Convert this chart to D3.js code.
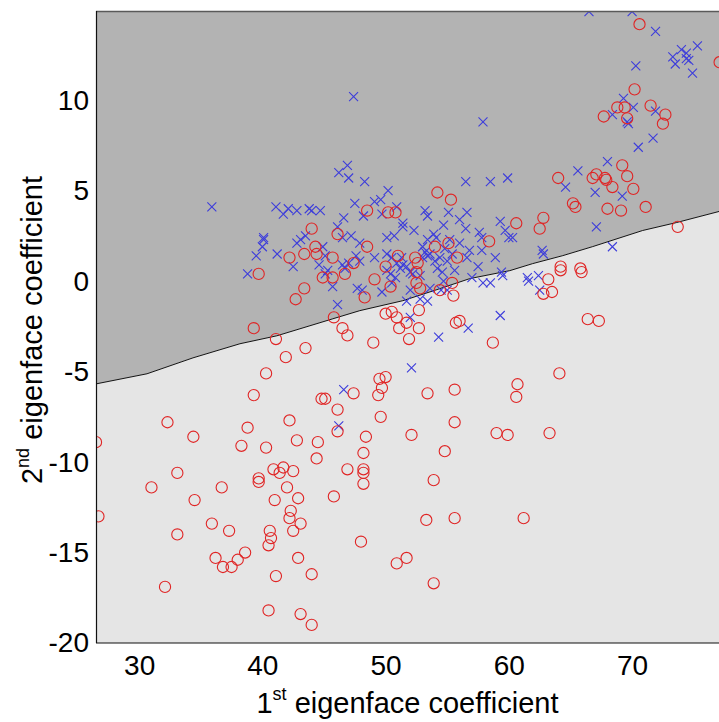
<!DOCTYPE html>
<html>
<head>
<meta charset="utf-8">
<script src="https://cdn.jsdelivr.net/npm/d3@7"></script>
<style>
  html, body { margin: 0; padding: 0; background: #ffffff; }
  svg { display: block; }
  text { font-family: "Liberation Sans", Arial, sans-serif; fill: #000; }
</style>
</head>
<body>
<svg id="chart" width="719" height="722"></svg>
<script>
// ---------------- data ----------------
const xTicks = [30, 40, 50, 60, 70];
const yTicks = [-20, -15, -10, -5, 0, 5, 10];
const xDomain = [26.5, 77.05];
const yDomain = [-20, 14.93];

// decision boundary (x, y) samples
const boundary = [[26.5,-5.68],[30.64,-5.12],[34.37,-4.24],[38.18,-3.46],[41.18,-3.02],[45.72,-2.08],[47.91,-1.63],[51.40,-1.08],[54.16,-0.47],[56.83,0.14],[60.08,0.58],[61.94,0.97],[64.38,1.41],[66.81,1.91],[70.86,2.80],[73.62,3.24],[77.05,3.85]];

// class 1 (blue crosses)
const crosses = [[35.9,4.1],[47.4,10.2],[46.9,6.4],[46.2,6.0],[47.0,5.7],[48.3,5.5],[41.1,4.1],[41.7,3.7],[42.1,4.0],[42.8,3.9],[43.8,4.0],[44.0,3.9],[44.7,3.9],[46.6,3.5],[40.1,2.4],[40.1,2.3],[40.0,1.9],[39.5,1.4],[38.8,0.4],[41.2,1.5],[42.5,0.8],[43.5,2.5],[43.1,2.3],[42.8,2.1],[44.6,0.9],[45.1,0.4],[45.7,-0.3],[46.1,-1.3],[46.5,0.9],[47.0,1.0],[47.6,1.4],[47.7,-0.4],[48.1,-0.5],[46.6,-6.0],[46.2,-8.0],[46.1,3.0],[47.2,2.5],[46.5,2.4],[47.9,2.1],[48.2,3.6],[49.7,3.7],[50.2,5.0],[49.1,4.4],[49.6,4.5],[47.5,4.3],[50.9,4.1],[51.4,3.2],[51.4,3.0],[52.3,2.8],[50.1,2.4],[50.7,2.5],[44.9,1.9],[45.1,1.4],[53.2,3.9],[53.4,3.6],[53.9,2.6],[54.1,2.4],[54.7,3.1],[55.1,3.8],[56.6,3.8],[56.0,3.4],[56.5,2.9],[57.6,2.7],[57.8,2.4],[59.3,3.3],[59.7,2.8],[60.0,2.4],[60.3,2.4],[56.5,5.5],[58.5,5.5],[59.9,5.7],[57.9,8.8],[65.6,6.1],[68.0,6.6],[64.6,5.2],[67.0,4.9],[69.2,4.7],[67.1,3.0],[66.5,14.9],[70.0,14.9],[71.9,13.8],[75.3,13.0],[74.0,12.8],[74.4,12.6],[73.3,12.4],[74.6,12.2],[74.4,12.3],[73.5,12.0],[74.9,11.5],[70.3,11.9],[69.3,10.1],[70.1,9.6],[68.4,9.2],[69.6,8.8],[69.7,8.7],[71.9,9.4],[71.7,7.9],[70.5,7.4],[68.4,1.9],[62.7,1.7],[62.8,1.5],[61.5,0.2],[61.6,0.0],[62.4,0.3],[62.5,-0.5],[59.4,0.5],[59.5,0.3],[57.9,-0.1],[58.5,-0.1],[58.9,1.3],[59.3,-1.9],[56.7,-2.6],[54.3,-3.1],[52.0,-2.0],[52.1,-4.8],[49.1,1.3],[47.9,1.1],[46.7,0.7],[45.3,0.6],[49.7,-0.6],[50.1,1.5],[50.5,1.3],[50.9,1.0],[51.3,1.3],[51.4,0.9],[50.1,0.6],[50.4,0.4],[50.8,0.2],[50.5,-0.1],[51.2,0.7],[51.7,0.8],[52.0,0.5],[52.2,0.4],[52.8,0.3],[53.0,1.9],[53.2,1.6],[53.4,2.3],[53.0,1.3],[53.4,1.4],[53.6,1.5],[54.0,1.1],[54.2,0.7],[52.0,-0.5],[52.8,-1.0],[53.4,-1.1],[53.6,-0.4],[55.2,2.3],[56.0,2.1],[54.8,1.8],[55.4,1.5],[56.8,1.7],[57.8,1.7],[54.4,1.3],[55.0,1.1],[55.6,0.6],[56.6,1.3],[57.5,0.8],[57.0,0.2],[54.6,0.5],[54.7,0.0],[54.5,-0.5],[55.0,-0.5],[51.7,-1.1]];

// class 2 (red circles)
const circles = [[44.0,2.9],[46.1,2.6],[42.2,1.3],[43.4,1.5],[44.3,1.9],[44.4,1.5],[39.7,0.4],[43.4,-0.4],[42.7,-1.0],[45.7,1.3],[44.9,0.2],[45.7,0.2],[46.7,0.4],[47.4,1.0],[45.8,-2.0],[46.5,-2.6],[46.9,-3.0],[39.3,-2.6],[41.1,-3.2],[43.5,-3.7],[41.9,-4.2],[40.3,-5.1],[39.3,-6.3],[44.8,-6.5],[45.1,-6.5],[46.1,-7.1],[47.4,-6.2],[46.1,-8.3],[42.2,-7.7],[38.8,-8.1],[32.3,-7.8],[34.4,-8.6],[26.5,-8.9],[38.3,-9.1],[40.3,-9.2],[42.8,-8.8],[44.5,-8.9],[44.4,-9.8],[46.9,-10.4],[33.1,-10.6],[40.9,-10.4],[41.7,-10.3],[41.4,-10.6],[42.5,-10.5],[39.7,-10.9],[48.2,-10.4],[48.2,-10.6],[31.0,-11.4],[36.7,-11.4],[39.7,-11.1],[42.0,-11.4],[45.8,-11.9],[34.5,-12.1],[41.0,-12.1],[42.9,-12.0],[26.7,-13.0],[42.3,-12.7],[42.2,-13.1],[35.9,-13.4],[43.1,-13.4],[40.6,-13.8],[42.5,-13.8],[37.3,-13.8],[33.1,-14.0],[40.7,-14.2],[40.5,-14.6],[48.0,-14.4],[38.6,-15.0],[38.0,-15.4],[36.2,-15.3],[36.8,-15.8],[37.5,-15.8],[42.9,-15.3],[44.0,-16.2],[41.1,-16.3],[32.1,-16.9],[40.5,-18.2],[43.1,-18.4],[44.0,-19.0],[49.0,-3.4],[48.5,1.9],[50.0,-1.8],[50.5,-1.7],[50.9,-2.0],[51.1,-2.6],[51.7,-2.3],[51.9,-3.2],[52.7,-2.6],[52.7,-1.6],[55.7,-2.3],[56.0,-2.2],[58.7,-3.4],[66.4,-2.1],[67.3,-2.2],[64.1,-5.1],[60.7,-5.7],[60.6,-6.4],[49.5,-5.4],[50.0,-5.3],[49.7,-5.9],[49.4,-6.3],[53.4,-6.2],[55.6,-6.0],[49.6,-7.5],[55.6,-7.8],[48.4,-8.6],[52.1,-8.5],[59.0,-8.4],[59.9,-8.5],[63.3,-8.4],[48.2,-9.5],[54.8,-9.4],[53.9,-11.0],[64.2,0.8],[64.2,0.6],[65.8,0.7],[65.9,0.5],[63.2,0.1],[63.5,-0.6],[62.8,-0.7],[48.2,-11.2],[53.3,-13.2],[55.6,-13.1],[61.2,-13.1],[50.9,-15.6],[51.7,-15.3],[53.9,-16.7],[49.1,0.1],[48.3,-0.9],[50.4,-0.3],[50.0,0.8],[51.0,1.4],[52.4,1.3],[52.6,1.0],[52.5,0.5],[52.5,-0.1],[52.8,-0.4],[54.0,1.9],[48.5,3.9],[50.2,3.8],[50.8,3.8],[54.2,4.9],[55.3,4.5],[60.6,3.2],[58.4,2.2],[62.8,3.5],[62.5,2.9],[55.1,2.1],[55.8,1.3],[55.4,-0.1],[55.5,-0.8],[54.4,-0.5],[64.0,5.7],[66.8,5.7],[67.1,5.9],[67.8,5.7],[67.9,5.6],[68.4,5.2],[69.6,5.8],[70.1,5.1],[69.2,6.4],[65.2,4.3],[65.4,4.1],[68.0,4.0],[69.1,3.9],[71.1,4.1],[73.7,3.0],[70.6,14.2],[77.1,12.1],[70.2,10.6],[68.8,9.6],[69.4,9.6],[67.7,9.1],[69.6,9.0],[71.5,9.7],[72.7,9.2],[72.5,8.7]];

// ---------------- layout ----------------
const W = 719, H = 722;
const plot = { left: 96, right: 719, top: 11, bottom: 643 };

const svg = d3.select("#chart");
const x = d3.scaleLinear().domain(xDomain).range([plot.left, plot.right]);
const y = d3.scaleLinear().domain(yDomain).range([plot.bottom, plot.top]);

svg.append("defs").append("clipPath").attr("id", "plotClip")
  .append("rect")
  .attr("x", plot.left).attr("y", plot.top)
  .attr("width", plot.right - plot.left).attr("height", plot.bottom - plot.top);

const g = svg.append("g").attr("clip-path", "url(#plotClip)");

// regions
g.append("path").datum(boundary)
  .attr("fill", "#b3b3b3")
  .attr("d", d3.area().x(d => x(d[0])).y0(y(yDomain[1])).y1(d => y(d[1])));
g.append("path").datum(boundary)
  .attr("fill", "#e5e5e5")
  .attr("d", d3.area().x(d => x(d[0])).y0(y(yDomain[0])).y1(d => y(d[1])));

// boundary line
g.append("path").datum(boundary)
  .attr("fill", "none").attr("stroke", "#111").attr("stroke-width", 1)
  .attr("d", d3.line().x(d => x(d[0])).y(d => y(d[1])));

// crosses
const s = 4.5;
g.append("g").selectAll("path").data(crosses).join("path")
  .attr("d", d => {
    const cx = x(d[0]), cy = y(d[1]);
    return `M${cx - s},${cy - s}L${cx + s},${cy + s}M${cx - s},${cy + s}L${cx + s},${cy - s}`;
  })
  .attr("stroke", "#3d3ddb").attr("stroke-width", 1.1).attr("fill", "none");

// circles
g.append("g").selectAll("circle").data(circles).join("circle")
  .attr("cx", d => x(d[0])).attr("cy", d => y(d[1])).attr("r", 5.6)
  .attr("fill", "none").attr("stroke", "#e02525").attr("stroke-width", 1.1);

// frame
svg.append("line").attr("x1", plot.left).attr("x2", plot.right).attr("y1", plot.top + 0.5).attr("y2", plot.top + 0.5)
  .attr("stroke", "#5a5a5a").attr("stroke-width", 1.5);
svg.append("line").attr("x1", plot.left).attr("x2", plot.right).attr("y1", plot.bottom).attr("y2", plot.bottom)
  .attr("stroke", "#111").attr("stroke-width", 1.2);
svg.append("line").attr("x1", plot.left + 0.5).attr("x2", plot.left + 0.5).attr("y1", plot.top).attr("y2", plot.bottom)
  .attr("stroke", "#111").attr("stroke-width", 1.2);

// axes
const xAxis = svg.append("g").attr("transform", `translate(0,${plot.bottom})`)
  .call(d3.axisBottom(x).tickValues(xTicks).tickSize(0).tickPadding(12));
const yAxis = svg.append("g").attr("transform", `translate(${plot.left},0)`)
  .call(d3.axisLeft(y).tickValues(yTicks).tickSize(0).tickPadding(7).tickFormat(d => d));
[xAxis, yAxis].forEach(a => {
  a.select(".domain").remove();
  a.selectAll("text").attr("font-size", 28).attr("font-family", "Liberation Sans, Arial, sans-serif").attr("fill", "#000");
});

// axis labels
const xl = svg.append("text").attr("x", (plot.left + plot.right) / 2).attr("y", 713)
  .attr("text-anchor", "middle").attr("font-size", 29);
xl.append("tspan").text("1");
xl.append("tspan").attr("font-size", 18).attr("dy", -13).text("st");
xl.append("tspan").attr("dy", 13).text(" eigenface coefficient");

const yl = svg.append("text").attr("transform", "translate(42,330) rotate(-90)")
  .attr("text-anchor", "middle").attr("font-size", 29);
yl.append("tspan").text("2");
yl.append("tspan").attr("font-size", 18).attr("dy", -13).text("nd");
yl.append("tspan").attr("dy", 13).text(" eigenface coefficient");
</script>
</body>
</html>
